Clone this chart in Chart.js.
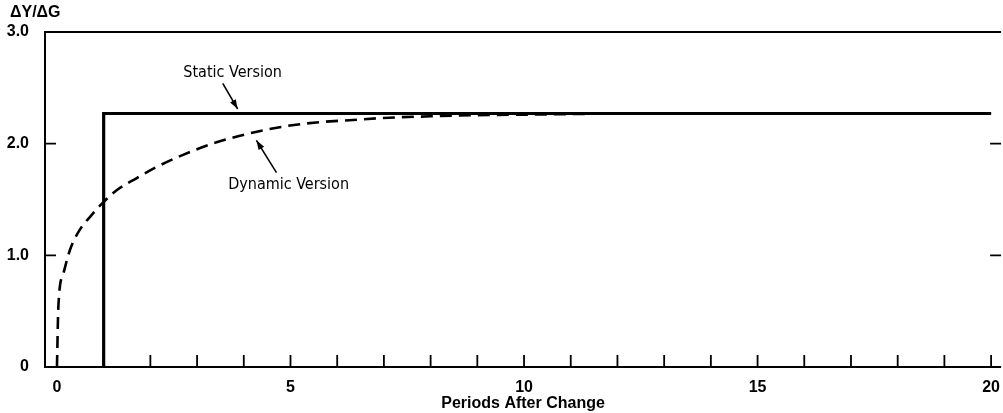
<!DOCTYPE html>
<html><head><meta charset="utf-8">
<script src="https://cdn.jsdelivr.net/npm/chart.js@4/dist/chart.umd.min.js"></script>
<style>html,body{margin:0;padding:0;background:#fff}#wrap{width:1003px;height:413px}</style>
</head><body><div id="wrap"><canvas id="c" width="1003" height="413"></canvas></div>
<script>
const staticX = [1, 1, 20];
const staticY = [0, 2.27, 2.27];
const dynamicX = [0, 0.03, 0.14, 0.28, 0.49, 0.74, 0.98, 1.27, 1.7, 2.13, 2.7, 3.4, 4.1, 4.8, 5.55, 6.26, 6.97, 8.0, 9.0, 10.0, 11.0, 12.0, 14.0, 16.0, 18.0, 20.0];
const dynamicY = [0, 0.54, 0.84, 1.05, 1.23, 1.36, 1.47, 1.58, 1.69, 1.79, 1.90, 2.01, 2.09, 2.15, 2.19, 2.21, 2.23, 2.245, 2.255, 2.26, 2.265, 2.27, 2.27, 2.27, 2.27, 2.27];
const xTickLabels = [0, 5, 10, 15, 20];
const yTickLabels = ["0", "1.0", "2.0", "3.0"];
const yTickValues = [0, 1, 2, 3];
const xMinor = Array.from({length: 21}, (_, i) => i);
const yInner = [1, 2];
const yAxisLabel = "ΔY/ΔG";
const xAxisLabel = "Periods After Change";
const labelStatic = "Static Version";
const labelDynamic = "Dynamic Version";

const FONT = "'Liberation Sans', Arial, sans-serif";
const NARROW = "'Liberation Sans Narrow', 'DejaVu Sans Condensed', sans-serif";

const frame = {
  id: 'frame',
  afterDraw(chart) {
    const {ctx, chartArea: a, scales: {x, y}} = chart;
    ctx.save();
    ctx.strokeStyle = '#000';
    ctx.lineWidth = 2;
    ctx.beginPath();
    ctx.moveTo(a.right, a.top); ctx.lineTo(a.left, a.top); ctx.lineTo(a.left, a.bottom); ctx.lineTo(a.right, a.bottom);
    ctx.stroke();
    ctx.lineWidth = 1.8;
    ctx.beginPath();
    xMinor.forEach(v => { const px = x.getPixelForValue(v); ctx.moveTo(px, a.bottom); ctx.lineTo(px, a.bottom - 12); });
    yInner.forEach(v => {
      const py = y.getPixelForValue(v);
      ctx.moveTo(a.left, py); ctx.lineTo(a.left + 11, py);
      ctx.moveTo(a.right, py); ctx.lineTo(a.right - 11, py);
    });
    ctx.stroke();
    ctx.fillStyle = '#000';
    ctx.font = "bold 16px " + FONT;
    ctx.textAlign = 'left'; ctx.textBaseline = 'middle';
    ctx.fillText(yAxisLabel, 10, 13);
    ctx.font = "16px " + NARROW;
    ctx.textAlign = 'center';
    ctx.fillText(labelStatic, x.getPixelForValue(3.76), y.getPixelForValue(2.63));
    ctx.fillText(labelDynamic, x.getPixelForValue(4.96), y.getPixelForValue(1.63));
    function arrow(x1, y1, x2, y2) {
      ctx.beginPath(); ctx.moveTo(x1, y1); ctx.lineTo(x2, y2); ctx.lineWidth = 1.6; ctx.stroke();
      const ang = Math.atan2(y2 - y1, x2 - x1), L = 10, w = 0.33;
      ctx.beginPath(); ctx.moveTo(x2, y2);
      ctx.lineTo(x2 - L * Math.cos(ang - w), y2 - L * Math.sin(ang - w));
      ctx.lineTo(x2 - L * Math.cos(ang + w), y2 - L * Math.sin(ang + w));
      ctx.closePath(); ctx.fill();
    }
    arrow(x.getPixelForValue(3.55), y.getPixelForValue(2.54), x.getPixelForValue(3.87), y.getPixelForValue(2.31));
    arrow(x.getPixelForValue(4.7), y.getPixelForValue(1.74), x.getPixelForValue(4.27), y.getPixelForValue(2.03));
    ctx.restore();
  }
};

new Chart(document.getElementById('c'), {
  type: 'line',
  data: {
    datasets: [
      { label: 'Static', data: staticX.map((v, i) => ({x: v, y: staticY[i]})), borderColor: '#000', borderWidth: 3.2, pointRadius: 0, tension: 0, borderJoinStyle: 'miter', fill: false },
      { label: 'Dynamic', data: dynamicX.map((v, i) => ({x: v, y: dynamicY[i]})), borderColor: '#000', borderWidth: 2.6, borderDash: [12, 7], pointRadius: 0, cubicInterpolationMode: 'monotone', fill: false }
    ]
  },
  options: {
    responsive: false, animation: false, devicePixelRatio: 1,
    layout: { padding: { top: 32, right: 0, left: 0, bottom: 0 } },
    plugins: { legend: { display: false }, tooltip: { enabled: false } },
    scales: {
      x: {
        type: 'linear', min: -0.256, max: 20.214,
        grid: { display: false }, border: { display: false },
        afterBuildTicks(s) { s.ticks = xTickLabels.map(v => ({value: v})); },
        afterFit(s) { s.height = 46; },
        ticks: { color: '#000', font: { family: FONT, size: 16, weight: 'bold' }, padding: 3, maxRotation: 0, autoSkip: false, callback: v => String(v) },
        title: { display: true, text: xAxisLabel, color: '#000', font: { family: FONT, size: 16, weight: 'bold' }, padding: { top: 0, bottom: 0 } }
      },
      y: {
        type: 'linear', min: 0, max: 3,
        grid: { display: false }, border: { display: false },
        afterBuildTicks(s) { s.ticks = yTickValues.map(v => ({value: v})); },
        afterFit(s) { s.width = 45; },
        ticks: { color: '#000', font: { family: FONT, size: 16, weight: 'bold' }, padding: 8, callback: (v) => yTickLabels[yTickValues.indexOf(v)] }
      }
    }
  },
  plugins: [frame]
});
</script></body></html>
